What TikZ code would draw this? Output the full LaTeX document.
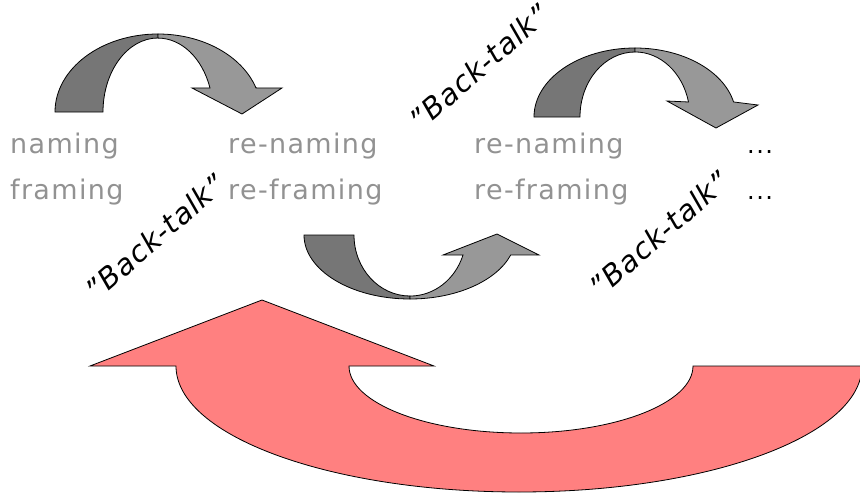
\documentclass[tikz,border=0pt]{standalone}
\usepackage{fontspec}
\setmainfont{DejaVu Sans}

\definecolor{wordgray}{RGB}{146,146,146}
\definecolor{banddark}{RGB}{118,118,118}
\definecolor{bandlight}{RGB}{152,152,152}
\definecolor{loopred}{RGB}{255,128,128}

\tikzset{
    word/.style={text=wordgray, font=\fontsize{27}{30}\selectfont\addfontfeatures{LetterSpace=5}, anchor=base west, inner sep=0pt},
    dots/.style={font=\fontsize{24}{30}\selectfont\addfontfeatures{LetterSpace=6}, anchor=base west, inner sep=0pt},
    talk/.style={font=\fontsize{29}{32}\selectfont\itshape\addfontfeatures{LetterSpace=3}, rotate=41, inner sep=0pt},
    darkband/.style={fill=banddark, draw=black, line width=0.8pt},
    lightband/.style={fill=bandlight, draw=black, line width=0.8pt},
    redband/.style={fill=loopred, draw=black, line width=0.8pt}
}

\begin{document}
\begin{tikzpicture}[x=1pt, y=-1pt]
        \useasboundingbox (0,0) rectangle (860,495);
        % big loop back
        \begin{scope}[shift={(519,366)}]
            \filldraw[redband] (-429,0) -- (-257,-66) -- (-85,0) -- (-170,0)
                arc[start angle=180, end angle=0, x radius=172, y radius=67]
                -- (343,0) arc[start angle=0, end angle=180, x radius=343, y radius=126] -- cycle;
        \end{scope}
        % first hop
        \begin{scope}[shift={(158,112)}]
            \filldraw[darkband] (-103,0) arc[start angle=180, end angle=270, x radius=103, y radius=78]
                -- (0,-74) arc[start angle=270, end angle=180, x radius=55, y radius=74] -- cycle;
            \filldraw[lightband] (0,-78) arc[start angle=270, end angle=342, x radius=103, y radius=78]
                -- (124,-24) -- (84,2) -- (34,-24) -- (52,-24)
                arc[start angle=341, end angle=270, x radius=55, y radius=74] -- cycle;
        \end{scope}
        % second hop
        \begin{scope}[shift={(635,117)}]
            \filldraw[darkband] (-101,0) arc[start angle=180, end angle=270, x radius=101, y radius=69]
                -- (0,-65) arc[start angle=270, end angle=180, x radius=55, y radius=65] -- cycle;
            \filldraw[lightband] (0,-69) arc[start angle=270, end angle=347.4, x radius=101, y radius=69]
                -- (123,-12) -- (81,11) -- (32,-16) -- (53.5,-15)
                arc[start angle=346.7, end angle=270, x radius=55, y radius=65] -- cycle;
        \end{scope}
        % hop underneath
        \begin{scope}[shift={(410,235)}]
            \filldraw[darkband] (-106,0) arc[start angle=180, end angle=90, x radius=106, y radius=64]
                -- (0,61) arc[start angle=90, end angle=180, x radius=56, y radius=61] -- cycle;
            \filldraw[lightband] (0,64) arc[start angle=90, end angle=18.2, x radius=106, y radius=64]
                -- (129,20) -- (87,-1) -- (33,20) -- (53,20)
                arc[start angle=19.1, end angle=90, x radius=56, y radius=61] -- cycle;
        \end{scope}
        % words
        \node[word] (naming) at (10,153) {naming};
        \node[word] (framing) at (10,199) {framing};
        \node[word] (renaming) at (228,153) {re-naming};
        \node[word] (reframing) at (228,199) {re-framing};
        \node[word] (renamingb) at (474,153) {re-naming};
        \node[word] (reframingb) at (474,199) {re-framing};
        \node[dots] (morea) at (747,153) {...};
        \node[dots] (moreb) at (747,199) {...};
        % back-talk
        \node[talk] (talka) at (155,237) {"Back-talk"};
        \node[talk] (talkb) at (479,67) {"Back-talk"};
        \node[talk] (talkc) at (659,234) {"Back-talk"};
    \end{tikzpicture}
\end{document}
